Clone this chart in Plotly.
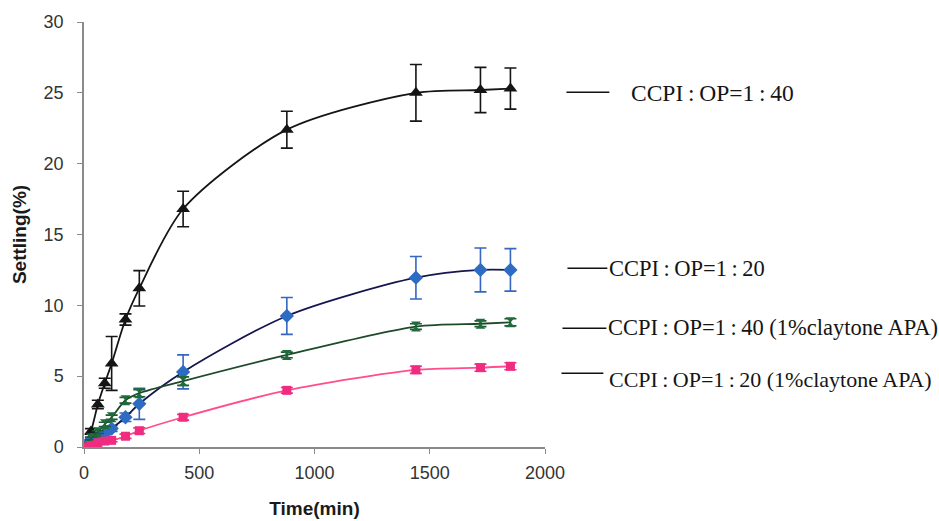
import plotly.graph_objects as go

# Sampling times (min)
time_min = [0, 30, 60, 90, 120, 180, 240, 430, 880, 1440, 1720, 1850]

# Settling (%) for each formulation, with standard deviations
op40 = [0, 1.1, 3.0, 4.5, 5.9, 9.0, 11.2, 16.8, 22.4, 25.0, 25.2, 25.3]
op40_err = [0, 0.2, 0.3, 0.35, 1.9, 0.4, 1.25, 1.25, 1.3, 2.0, 1.6, 1.45]

op20 = [0, 0.5, 0.7, 0.95, 1.3, 2.1, 3.05, 5.3, 9.25, 11.95, 12.5, 12.5]
op20_err = [0, 0.1, 0.1, 0.2, 0.2, 0.3, 1.1, 1.2, 1.3, 1.5, 1.55, 1.5]

op40_clay = [0, 0.6, 1.05, 1.6, 2.1, 3.3, 3.8, 4.65, 6.5, 8.5, 8.7, 8.8]
op40_clay_err = [0, 0.1, 0.1, 0.15, 0.15, 0.2, 0.25, 0.3, 0.2, 0.2, 0.2, 0.25]

op20_clay = [0, 0.1, 0.3, 0.42, 0.47, 0.76, 1.15, 2.1, 4.0, 5.45, 5.6, 5.7]
op20_clay_err = [0, 0.05, 0.1, 0.1, 0.1, 0.15, 0.2, 0.2, 0.2, 0.25, 0.25, 0.25]

TS = "\u2009"  # thin space around the ratio colons
series_labels = [
    f"CCPI{TS}:{TS}OP=1{TS}:{TS}40",
    f"CCPI{TS}:{TS}OP=1{TS}:{TS}20",
    f"CCPI{TS}:{TS}OP=1{TS}:{TS}40 (1%claytone APA)",
    f"CCPI{TS}:{TS}OP=1{TS}:{TS}20 (1%claytone APA)",
]

x_ticks = [0, 500, 1000, 1500, 2000]
y_ticks = [0, 5, 10, 15, 20, 25, 30]

W, H = 939, 521
L, R, T, B = 83.5, 393.5, 21.7, 74.3
PW, PH = W - L - R, H - T - B


def px(x):
    return (x - L) / PW


def py(y):
    return (H - B - y) / PH


fig = go.Figure()

styles = [
    (op40, op40_err, "#151515", "#151515", "triangle-up", 12, "#151515"),
    (op20, op20_err, "#15164f", "#2e6cc4", "diamond", 11, "#3566c0"),
    (op40_clay, op40_clay_err, "#1f4a2a", "#1e6b3c", "hourglass", 10, "#1e5a34"),
    (op20_clay, op20_clay_err, "#ff4d8d", "#ef2c80", "square", 9, "#ef2c80"),
]

for (vals, errs, lc, mc, sym, ms, ec), name in zip(styles, series_labels):
    fig.add_trace(go.Scatter(
        x=time_min, y=vals, name=name, mode="lines+markers",
        line=dict(color=lc, width=1.8, shape="spline", smoothing=0.8),
        marker=dict(symbol=sym, size=ms, color=mc, line=dict(width=0)),
        error_y=dict(type="data", array=errs, visible=True, color=ec,
                     thickness=1.6, width=6),
        showlegend=False,
    ))

# Series labels to the right of the plot, each with a short dash
label_pos = [
    (567, 610, 92, 630, 93, 23.5),
    (568, 608, 268, 608, 268, 22.5),
    (563, 607, 328, 607, 327, 22.5),
    (562, 604, 373, 608, 379, 22),
]
for (x0, x1, yl, xt, yt, fs), text in zip(label_pos, series_labels):
    fig.add_shape(type="line", xref="paper", yref="paper",
                  x0=px(x0), x1=px(x1), y0=py(yl), y1=py(yl),
                  line=dict(color="#111111", width=1.6))
    fig.add_annotation(xref="paper", yref="paper", x=px(xt), y=py(yt),
                       text=text, showarrow=False, xanchor="left",
                       yanchor="middle",
                       font=dict(family="Liberation Serif", size=fs,
                                 color="#151515"))

axis_common = dict(
    showline=True, linecolor="#8a8a8a", linewidth=1.5,
    ticks="outside", ticklen=5, tickwidth=1.3, tickcolor="#8a8a8a",
    showgrid=False, zeroline=False, automargin=False,
    tickfont=dict(family="Liberation Sans", size=18, color="#333333"),
)

fig.update_layout(
    width=W, height=H,
    margin=dict(l=L, r=R, t=T, b=B),
    paper_bgcolor="white", plot_bgcolor="white",
    xaxis=dict(range=[0, 2000], tickvals=x_ticks, ticklabelstandoff=4,
               title=dict(text="<b>Time(min)</b>", standoff=19,
                          font=dict(family="Liberation Sans", size=19,
                                    color="#1a1a1a")),
               **axis_common),
    yaxis=dict(range=[0, 30], tickvals=y_ticks, ticklabelstandoff=10,
               title=dict(text="<b>Settling(%)</b>", standoff=12,
                          font=dict(family="Liberation Sans", size=19,
                                    color="#1a1a1a")),
               **axis_common),
)

fig.write_html("out.html")
